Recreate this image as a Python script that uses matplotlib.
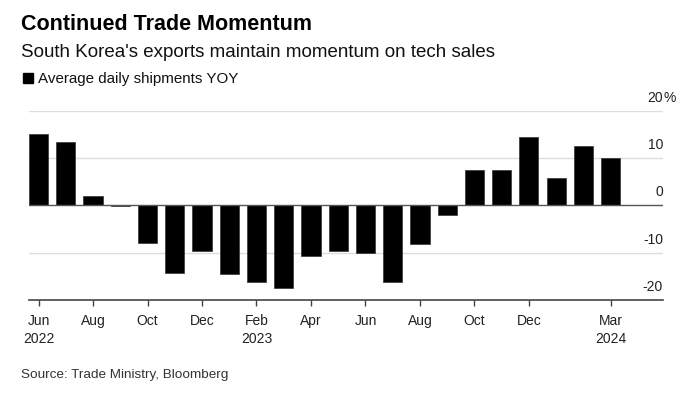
import matplotlib.pyplot as plt
import matplotlib.transforms as mtransforms
from matplotlib.patches import Rectangle

plt.rcParams['font.family'] = ['Liberation Sans', 'DejaVu Sans']

# Данные: средние ежедневные отгрузки, % г/г
months = ['Jun 2022', 'Jul 2022', 'Aug 2022', 'Sep 2022', 'Oct 2022', 'Nov 2022',
          'Dec 2022', 'Jan 2023', 'Feb 2023', 'Mar 2023', 'Apr 2023', 'May 2023',
          'Jun 2023', 'Jul 2023', 'Aug 2023', 'Sep 2023', 'Oct 2023', 'Nov 2023',
          'Dec 2023', 'Jan 2024', 'Feb 2024', 'Mar 2024']
shipments_yoy = [15.0, 13.3, 2.0, -0.2, -8.0, -14.2, -9.7, -14.5, -16.1, -17.5, -10.6, -9.6,
                 -10.0, -16.3, -8.1, -2.0, 7.5, 7.4, 14.4, 5.8, 12.6, 10.0]

tick_months = ['Jun 2022', 'Aug 2022', 'Oct 2022', 'Dec 2022', 'Feb 2023', 'Apr 2023',
               'Jun 2023', 'Aug 2023', 'Oct 2023', 'Dec 2023', 'Mar 2024']
tick_labels = ['Jun\n2022', 'Aug', 'Oct', 'Dec', 'Feb\n2023', 'Apr',
               'Jun', 'Aug', 'Oct', 'Dec', 'Mar\n2024']
y_ticks = [-20, -10, 0, 10, 20]

W, H = 694, 395
fig = plt.figure(figsize=(W / 100, H / 100), dpi=100)
ax = fig.add_axes([29 / W, (H - 300) / H, (663 - 29) / W, (300 - 110.7) / H])

x = list(range(len(months)))
ax.bar(x, shipments_yoy, width=0.7, color='black', edgecolor='#333333', linewidth=0.5, zorder=3)

ax.set_xlim(-0.35, 22.92)
ax.set_ylim(-20, 20)

# сетка
for v in y_ticks:
    if v == 0:
        ax.axhline(v, color='#555555', linewidth=1.0, zorder=4)
    elif v != -20:
        ax.axhline(v, color='#dddddd', linewidth=1.0, zorder=1)

for s in ['top', 'right', 'left']:
    ax.spines[s].set_visible(False)
ax.spines['bottom'].set_color('#444444')
ax.spines['bottom'].set_linewidth(1.2)
ax.spines['bottom'].set_zorder(5)

ax.set_yticks([])
ax.set_xticks([months.index(m) for m in tick_months])
ax.set_xticklabels(tick_labels, fontsize=10, color='#222222', linespacing=1.35)
ax.tick_params(axis='x', length=4, width=1, color='#444444', pad=6)

# подписи оси Y справа, над линиями
trans = mtransforms.blended_transform_factory(ax.transAxes, ax.transData)
for v in y_ticks:
    t = ax.text(1.0, v, str(v), transform=trans, ha='right', va='baseline',
                fontsize=10, color='#222222')
    t.set_transform(trans + mtransforms.ScaledTranslation(0, 9 / 100, fig.dpi_scale_trans))
    if v == 20:
        p = ax.text(1.0, v, '%', transform=trans, ha='left', va='baseline',
                    fontsize=10, color='#222222')
        p.set_transform(trans + mtransforms.ScaledTranslation(0, 9 / 100, fig.dpi_scale_trans))

# заголовки
fig.text(21 / W, 1 - 30 / H, 'Continued Trade Momentum', fontsize=15.5,
         fontweight='bold', va='baseline', ha='left')
fig.text(21 / W, 1 - 57.3 / H, "South Korea's exports maintain momentum on tech sales",
         fontsize=13.5, va='baseline', ha='left', color='#111111')
fig.patches.append(Rectangle((22.5 / W, 1 - 83.3 / H), 10.5 / W, 10.6 / H,
                             transform=fig.transFigure, color='black'))
fig.text(38 / W, 1 - 83.3 / H, 'Average daily shipments YOY', fontsize=10.9,
         va='baseline', ha='left', color='#111111')
fig.text(21 / W, 1 - 378 / H, 'Source: Trade Ministry, Bloomberg', fontsize=9.7,
         va='baseline', ha='left', color='#333333')

fig.savefig('out.png', dpi=100)
